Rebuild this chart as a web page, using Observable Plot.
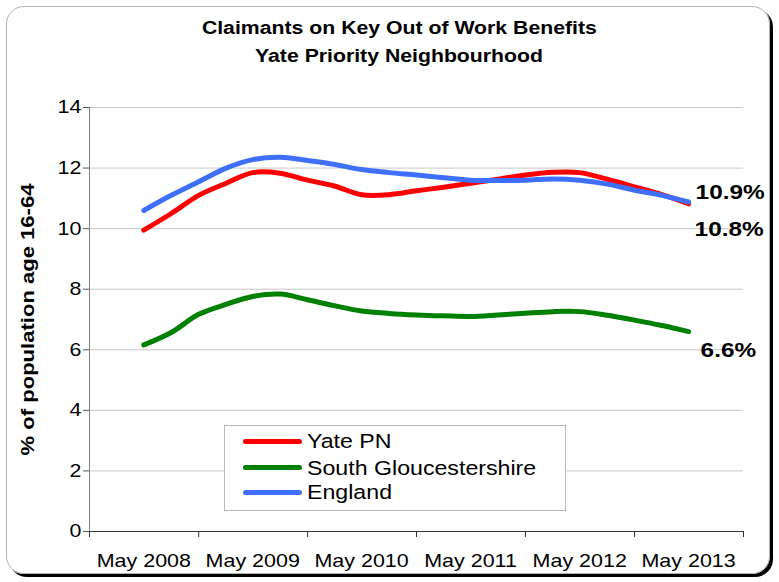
<!DOCTYPE html>
<html>
<head>
<meta charset="utf-8">
<script src="https://cdn.jsdelivr.net/npm/d3@7"></script>
<script src="https://cdn.jsdelivr.net/npm/@observablehq/plot@0.6"></script>
<style>
  body { margin: 0; background: #fff; }
  #wrap { position: relative; width: 779px; height: 582px; overflow: hidden; font-family: "Liberation Sans", Arial, sans-serif; color: #000; }
  #frame { position: absolute; left: 6px; top: 6px; width: 762px; height: 566px; border: 1px solid #b0b0b0; border-radius: 18px; box-shadow: 3px 3px 0 #000; }
  #title { position: relative; height: 85px; padding-top: 14px; padding-left: 20px; box-sizing: border-box; text-align: center; font-weight: bold; font-size: 18px; line-height: 28px; }
  #title span { display: inline-block; transform: scaleX(1.18); }
  #chart { position: relative; }
  #chart svg { display: block; }
  #legend { position: absolute; left: 224px; top: 425px; width: 342px; height: 86px; border: 1px solid #b8b8b8; background: #fff; box-sizing: border-box; }
  .row { position: absolute; left: 18px; height: 26px; display: flex; align-items: center; white-space: nowrap; }
  .swatch { display: inline-block; width: 59px; height: 5px; border-radius: 3px; }
  .lab { display: inline-block; font-size: 20.5px; margin-left: 5px; transform: scaleX(1.13); transform-origin: left center; }
</style>
</head>
<body>
<div id="wrap">
  <div id="frame"></div>
  <div id="title"></div>
  <div id="chart"></div>
  <div id="legend"></div>
</div>
<script>
// ---- data ----
const months = ["2008-05-01","2008-08-01","2008-11-01","2009-02-01","2009-05-01","2009-08-01","2009-11-01",
  "2010-02-01","2010-05-01","2010-08-01","2010-11-01","2011-02-01","2011-05-01","2011-08-01","2011-11-01",
  "2012-02-01","2012-05-01","2012-08-01","2012-11-01","2013-02-01","2013-05-01"];
const seriesNames = ["Yate PN", "South Gloucestershire", "England"];
const seriesColors = ["#ff0000", "#008000", "#3f6fff"];
const yatePN = [9.95, 10.5, 11.1, 11.5, 11.85, 11.83, 11.6, 11.4, 11.12, 11.12, 11.25, 11.37, 11.5, 11.63, 11.77, 11.86, 11.85, 11.63, 11.38, 11.12, 10.82];
const southGlos = [6.16, 6.57, 7.17, 7.5, 7.76, 7.84, 7.65, 7.45, 7.28, 7.2, 7.15, 7.12, 7.1, 7.15, 7.21, 7.26, 7.26, 7.14, 6.98, 6.8, 6.6];
const england = [10.6, 11.1, 11.55, 12.0, 12.28, 12.36, 12.25, 12.12, 11.95, 11.85, 11.77, 11.68, 11.6, 11.59, 11.6, 11.64, 11.6, 11.47, 11.27, 11.1, 10.88];
const endLabels = ["10.8%", "6.6%", "10.9%"];
const xTickLabels = ["May 2008", "May 2009", "May 2010", "May 2011", "May 2012", "May 2013"];
const xLabelDates = ["2008-05-01","2009-05-01","2010-05-01","2011-05-01","2012-05-01","2013-05-01"];
const xTickDates = ["2007-11-01","2008-11-01","2009-11-01","2010-11-01","2011-11-01","2012-11-01","2013-11-01"];
const yTicks = [0, 2, 4, 6, 8, 10, 12, 14];
const yLabel = "% of population age 16-64";
const titleLines = ["Claimants on Key Out of Work Benefits", "Yate Priority Neighbourhood"];

// ---- title ----
const titleEl = document.getElementById("title");
titleLines.forEach((line, i) => {
  if (i) titleEl.appendChild(document.createElement("br"));
  const s = document.createElement("span");
  s.textContent = line;
  titleEl.appendChild(s);
});

// ---- build tables ----
const values = [yatePN, southGlos, england];
const rows = [];
seriesNames.forEach((s, si) => values[si].forEach((v, i) => rows.push({series: s, date: new Date(months[i]), value: v})));
const lastPts = seriesNames.map((s, si) => ({series: s, date: new Date(months[months.length - 1]), value: values[si][values[si].length - 1], label: endLabels[si]}));
const xLabelData = xTickLabels.map((label, i) => ({label, date: new Date(xLabelDates[i])}));
const tickDates = xTickDates.map(d => new Date(d));

const endOffsets = [{dx: 6, dy: 25}, {dx: 12, dy: 19}, {dx: 7, dy: -10}];

const chart = Plot.plot({
  width: 779,
  height: 497,
  marginLeft: 89,
  marginRight: 36,
  marginTop: 22,
  marginBottom: 51,
  style: {fontFamily: "'Liberation Sans', Arial, sans-serif", fontSize: "18.5px", background: "transparent", color: "#000", overflow: "visible"},
  x: {type: "utc", domain: [tickDates[0], tickDates[tickDates.length - 1]], axis: null},
  y: {domain: [0, 14], axis: null},
  color: {domain: seriesNames, range: seriesColors},
  marks: [
    Plot.ruleY(yTicks.filter(v => v > 0), {stroke: "#c6c6c6", strokeWidth: 1}),
    Plot.ruleX([tickDates[0]], {stroke: "#808080"}),
    Plot.axisY({ticks: yTicks, tickSize: 6, tickPadding: 2, stroke: "#555", fill: "#000", label: null, fontSize: 18.5}),
    Plot.text([yLabel], {frameAnchor: "left", textAnchor: "middle", lineAnchor: "middle", rotate: -90, dx: -62, fontWeight: "bold", fontSize: 19, fill: "#000"}),
    Plot.ruleY([0], {stroke: "#333"}),
    Plot.axisX({ticks: tickDates, tickSize: 6, tickFormat: () => "", stroke: "#333", label: null}),
    Plot.text(xLabelData, {x: "date", text: "label", frameAnchor: "bottom", dy: 35, fontSize: 18.5, fill: "#000"}),
    Plot.line(rows, {x: "date", y: "value", stroke: "series", z: "series", strokeWidth: 5, curve: "catmull-rom", strokeLinecap: "round", strokeLinejoin: "round"}),
    ...lastPts.map((p, i) => Plot.text([p], {x: "date", y: "value", text: "label", textAnchor: "start", dx: endOffsets[i].dx, dy: endOffsets[i].dy, fontWeight: "bold", fontSize: 21, fill: "#000"}))
  ]
});
document.getElementById("chart").appendChild(chart);

// widen glyphs to match the reference's broad Arial rendering
chart.querySelectorAll("text").forEach(t => {
  const L = t.getComputedTextLength();
  if (L > 0) {
    t.setAttribute("textLength", (L * 1.16).toFixed(1));
    t.setAttribute("lengthAdjust", "spacingAndGlyphs");
  }
});

// legend
const legend = document.getElementById("legend");
const rowCenters = [15, 41.5, 66];
seriesNames.forEach((s, i) => {
  const r = document.createElement("div");
  r.className = "row";
  r.style.top = (rowCenters[i] - 13) + "px";
  const sw = document.createElement("span");
  sw.className = "swatch";
  sw.style.background = seriesColors[i];
  const lb = document.createElement("span");
  lb.className = "lab";
  lb.textContent = s;
  r.appendChild(sw); r.appendChild(lb);
  legend.appendChild(r);
});
</script>
</body>
</html>
